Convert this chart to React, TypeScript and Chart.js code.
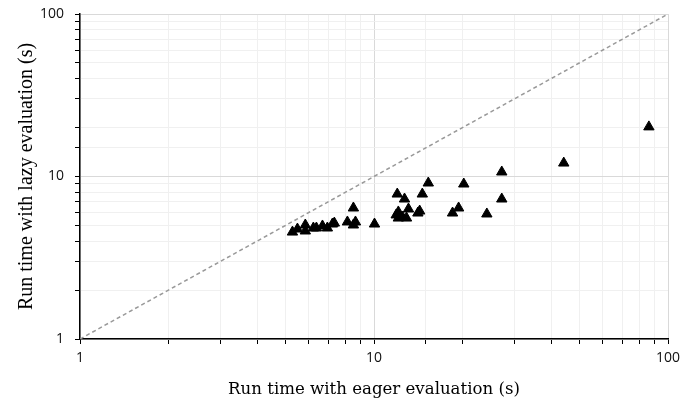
import { useEffect, useRef } from "react";
import { Chart, registerables } from "chart.js";

Chart.register(...registerables);

const eagerTimes = [
  5.28, 5.49, 5.84, 5.84, 6.22, 6.37, 6.68, 6.94, 7.22, 7.33, 8.12, 8.51, 8.65, 8.51, 10.04,
  12.0, 12.7, 12.1, 11.9, 12.1, 12.5, 12.9, 13.1, 14.1, 14.3, 14.6, 15.3, 18.5, 19.4, 20.2,
  24.2, 27.2, 27.2, 44.2, 86.1,
];
const lazyTimes = [
  4.55, 4.75, 5.03, 4.62, 4.82, 4.82, 4.96, 4.82, 5.1, 5.17, 5.25, 6.4, 5.25, 5.03, 5.1,
  7.8, 7.27, 6.05, 5.8, 5.55, 5.63, 5.55, 6.31, 5.96, 6.13, 7.8, 9.12, 5.96, 6.4, 8.99,
  5.88, 10.66, 7.27, 12.1, 20.2,
];
const diagonalX = [1, 100];
const diagonalY = [1, 100];
const axisMin = 1;
const axisMax = 100;
const xTitle = "Run time with eager evaluation (s)";
const yTitle = "Run time with lazy evaluation (s)";

const isDecade = (v: number) => Math.abs(Math.log10(v) - Math.round(Math.log10(v))) < 1e-9;

export default function App() {
  const ref = useRef<HTMLCanvasElement | null>(null);

  useEffect(() => {
    document.body.style.margin = "0";
    if (!ref.current) return;
    const gridColor = (ctx: any) => {
      const v = ctx.tick ? ctx.tick.value : 0;
      return isDecade(v) ? "#d9d9d9" : "#f0f0f0";
    };
    const tickCb = (value: any) => {
      const v = Number(value);
      return isDecade(v) ? String(Math.round(v)) : "";
    };
    const chart = new Chart(ref.current, {
      type: "scatter",
      data: {
        datasets: [
          {
            type: "scatter",
            data: eagerTimes.map((x, i) => ({ x, y: lazyTimes[i] })),
            pointStyle: "triangle",
            pointRadius: 6,
            backgroundColor: "#000",
            borderColor: "#000",
            borderWidth: 1,
            order: 1,
          },
          {
            type: "line",
            data: diagonalX.map((x, i) => ({ x, y: diagonalY[i] })),
            borderColor: "#999999",
            borderWidth: 1.5,
            borderDash: [4, 3],
            pointRadius: 0,
            fill: false,
            order: 2,
          } as any,
        ],
      },
      options: {
        animation: false,
        responsive: false,
        layout: { padding: { left: 0, top: 14, right: 16, bottom: 0 } },
        plugins: { legend: { display: false }, tooltip: { enabled: false } },
        scales: {
          x: {
            type: "logarithmic",
            min: axisMin,
            max: axisMax,
            afterFit: (s: any) => {
              s.height = 71;
              s.paddingLeft = 0;
              s.paddingRight = 0;
            },
            grid: { color: gridColor, tickColor: "#000", tickLength: 5, lineWidth: 1 },
            border: { color: "#000", width: 1.5 },
            ticks: {
              autoSkip: false,
              maxRotation: 0,
              callback: tickCb,
              padding: 6,
              color: "#111",
              font: { family: "'Open Sans'", size: 14 },
            },
            title: {
              display: true,
              text: xTitle,
              color: "#000",
              font: { family: "'DejaVu Serif'", size: 16.6 },
              padding: { top: 0, bottom: 10 },
            },
          },
          y: {
            type: "logarithmic",
            min: axisMin,
            max: axisMax,
            afterFit: (s: any) => {
              s.width = 80;
              s.paddingTop = 0;
              s.paddingBottom = 0;
            },
            grid: { color: gridColor, tickColor: "#000", tickLength: 5, lineWidth: 1 },
            border: { color: "#000", width: 1.5 },
            ticks: {
              autoSkip: false,
              callback: tickCb,
              padding: 11,
              color: "#111",
              font: { family: "'Open Sans'", size: 14 },
            },
            title: {
              display: true,
              text: yTitle,
              color: "#000",
              font: { family: "'Liberation Serif'", size: 20 },
              padding: { top: 15, bottom: 0 },
            },
          },
        },
      },
    });
    return () => chart.destroy();
  }, []);

  return (
    <div style={{ width: 684, height: 410 }}>
      <canvas ref={ref} width={684} height={410} />
    </div>
  );
}
